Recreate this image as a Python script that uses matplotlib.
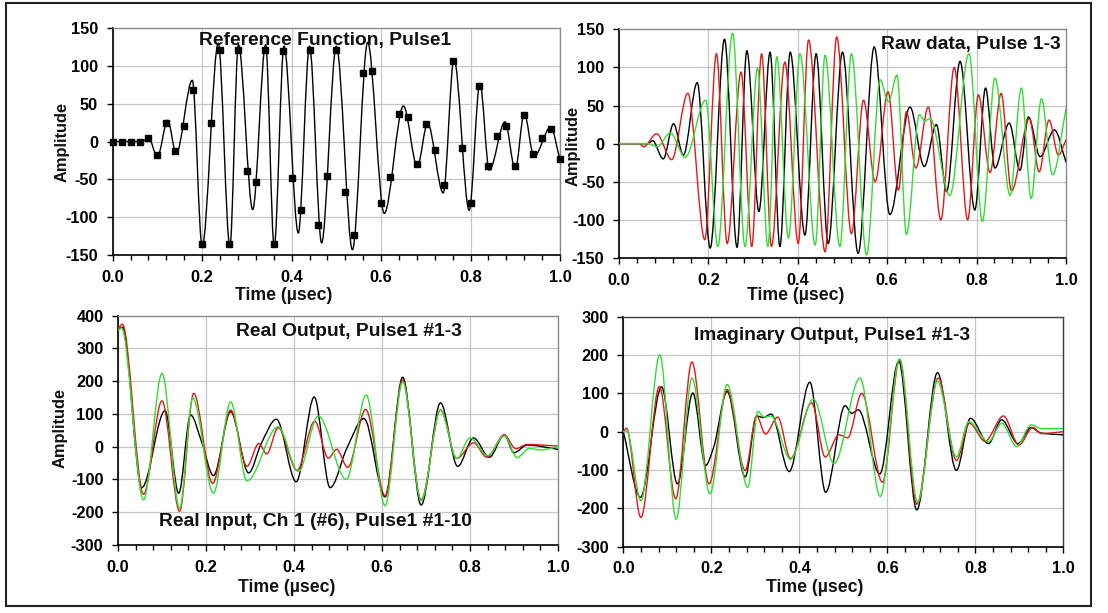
import numpy as np
import matplotlib
matplotlib.use("Agg")
import matplotlib.pyplot as plt
from matplotlib.path import Path
from matplotlib.patches import PathPatch, Rectangle

plt.rcParams['font.family'] = ['Liberation Sans', 'DejaVu Sans']
plt.rcParams['font.weight'] = 'bold'

W, H = 1108, 613

# ---------------- data ----------------
# Top-left: reference function, sampled markers every 0.02 usec
ref_sample_t = [0.00, 0.02, 0.04, 0.06, 0.08, 0.10, 0.12, 0.14, 0.16, 0.18,
                0.20, 0.22, 0.24, 0.26, 0.28, 0.30, 0.32, 0.34, 0.36, 0.38,
                0.40, 0.42, 0.44, 0.46, 0.48, 0.50, 0.52, 0.54, 0.56, 0.58,
                0.60, 0.62, 0.64, 0.66, 0.68, 0.70, 0.72, 0.74, 0.76, 0.78,
                0.80, 0.82, 0.84, 0.86, 0.88, 0.90, 0.92, 0.94, 0.96, 0.98, 1.00]
ref_sample_v = [0, 0, 0, 0, 5, -18, 25, -13, 20, 68,
                -136, 25, 121, -136, 121, -39, -54, 121, -136, 120,
                -48, -90, 121, -111, -46, 121, -67, -123, 91, 93,
                -81, -47, 36, 33, -30, 23, -11, -57, 106, -9,
                -81, 74, -32, 7, 21, -33, 35, -17, 4, 16, -23]
# reference function curve (turning points)
ref_t = [0, 0.066, 0.08, 0.1, 0.123, 0.142, 0.178, 0.2, 0.236, 0.262, 0.281, 0.313,
         0.342, 0.361, 0.383, 0.415, 0.44, 0.467, 0.5, 0.536, 0.57, 0.607, 0.65,
         0.681, 0.704, 0.739, 0.763, 0.797, 0.821, 0.842, 0.877, 0.9, 0.92, 0.942,
         0.979, 1.0]
ref_v = [0, 0, 5, -20, 28, -16, 81, -139, 130, -139, 128, -90,
         128, -139, 126, -121, 126, -134, 126, -143, 131, -95, 47,
         -33, 24, -68, 109, -91, 77, -38, 26, -37, 37, -20,
         19, -24]

# Top-right: raw data, pulses 1-3
raw1_t = [0, 0.065, 0.075, 0.099, 0.122, 0.144, 0.175, 0.204, 0.236, 0.264, 0.286,
          0.313, 0.338, 0.36, 0.383, 0.416, 0.441, 0.468, 0.5, 0.535, 0.571, 0.606,
          0.651, 0.683, 0.71, 0.733, 0.763, 0.796, 0.82, 0.841, 0.873, 0.897, 0.916,
          0.942, 0.974, 1.0]
raw1_v = [0, 0, 4, -20, 26, -15, 80, -137, 137, -136, 122,
          -89, 120, -135, 120, -120, 118, -131, 120, -144, 127, -93,
          48, -30, 25, -63, 108, -87, 73, -32, 27, -35, 35,
          -17, 18, -24]
raw2_t = [0, 0.045, 0.055, 0.084, 0.118, 0.154, 0.192, 0.218, 0.242, 0.273, 0.297,
          0.319, 0.341, 0.371, 0.401, 0.424, 0.461, 0.487, 0.52, 0.547, 0.573, 0.602,
          0.625, 0.643, 0.664, 0.692, 0.72, 0.75, 0.78, 0.804, 0.83, 0.855, 0.878,
          0.918, 0.94, 0.962, 0.983, 1.0]
raw2_v = [0, 0, -4, 13, -21, 66, -126, 118, -131, 94, -135,
          118, -135, 107, -131, 136, -142, 140, -118, 57, -50, 68,
          -61, 42, -32, 48, -100, 100, -100, 64, -38, 66, -62,
          33, -37, 31, -15, 5]
raw3_t = [0, 0.065, 0.085, 0.115, 0.148, 0.194, 0.221, 0.254, 0.282, 0.31, 0.333,
          0.353, 0.379, 0.405, 0.439, 0.461, 0.494, 0.52, 0.554, 0.584, 0.603, 0.622,
          0.643, 0.672, 0.684, 0.696, 0.74, 0.783, 0.813, 0.841, 0.875, 0.9, 0.922,
          0.945, 0.97, 1.0]
raw3_v = [0, 0, -4, 14, -18, 57, -135, 145, -135, 99, -135,
          114, -124, 118, -133, 116, -135, 118, -146, 84, 55, 90,
          -119, 38, 30, 33, -68, 118, -102, 86, -68, 73, -72,
          59, -41, 46]

# Bottom-left: real output #1-3
re1_t = [0, 0.01, 0.054, 0.107, 0.138, 0.165, 0.19, 0.217, 0.256, 0.297, 0.325,
         0.36, 0.405, 0.446, 0.482, 0.52, 0.559, 0.607, 0.647, 0.689, 0.733, 0.772,
         0.808, 0.844, 0.878, 0.9, 0.93, 1.0]
re1_v = [355, 365, -125, 110, -142, 97, 15, -88, 107, -80, 8,
         84, -107, 152, -125, -5, 86, -153, 212, -178, 134, -60,
         27, -32, 36, -18, 5, -8]
re2_t = [0, 0.01, 0.058, 0.1, 0.14, 0.172, 0.215, 0.256, 0.293, 0.32, 0.338,
         0.364, 0.407, 0.447, 0.478, 0.497, 0.522, 0.563, 0.607, 0.647, 0.689, 0.733,
         0.77, 0.808, 0.838, 0.878, 0.904, 0.93, 1.0]
re2_v = [360, 374, -145, 140, -197, 163, -112, 112, -60, 10, -22,
         58, -72, 78, -35, -8, -63, 114, -150, 203, -162, 112,
         -36, 12, -32, 36, -6, 7, 2]
re3_t = [0, 0.008, 0.058, 0.1, 0.14, 0.17, 0.217, 0.256, 0.293, 0.364, 0.41,
         0.455, 0.519, 0.564, 0.607, 0.647, 0.689, 0.733, 0.77, 0.8, 0.84, 0.878,
         0.907, 0.935, 0.96, 1.0]
re3_v = [355, 362, -162, 224, -188, 148, -142, 137, -104, 61, -76,
         94, -100, 158, -180, 198, -165, 112, -36, 27, -27, 33,
         -33, -5, -10, 0]

# Bottom-right: imaginary output #1-3
im1_t = [0, 0.039, 0.087, 0.123, 0.158, 0.187, 0.205, 0.236, 0.277, 0.303, 0.318,
         0.336, 0.377, 0.424, 0.46, 0.504, 0.519, 0.534, 0.583, 0.626, 0.667, 0.714,
         0.757, 0.789, 0.83, 0.86, 0.897, 0.927, 0.95, 1.0]
im1_v = [0, -171, 117, -136, 101, -88, -42, 105, -118, 41, 37,
         46, -104, 129, -158, 68, 48, 57, -110, 184, -204, 154,
         -101, 35, -31, 31, -31, 11, -4, -8]
im2_t = [0, 0.007, 0.04, 0.082, 0.119, 0.156, 0.195, 0.236, 0.277, 0.303, 0.323,
         0.351, 0.38, 0.428, 0.459, 0.49, 0.51, 0.542, 0.589, 0.628, 0.667, 0.716,
         0.757, 0.787, 0.822, 0.864, 0.899, 0.931, 0.95, 1.0]
im2_v = [0, 9, -224, 118, -175, 182, -136, 110, -101, 41, -6,
         38, -70, 75, -66, -8, -16, 100, -132, 188, -189, 140,
         -75, 22, -25, 41, -35, 11, -5, 0]
im3_t = [0, 0.008, 0.04, 0.083, 0.12, 0.156, 0.197, 0.236, 0.283, 0.306, 0.32,
         0.336, 0.38, 0.432, 0.479, 0.538, 0.584, 0.628, 0.669, 0.714, 0.757, 0.785,
         0.83, 0.86, 0.894, 0.927, 0.95, 1.0]
im3_v = [0, 2, -180, 200, -228, 140, -162, 123, -145, 53, 38,
         41, -72, 85, -83, 140, -169, 190, -184, 132, -66, 26,
         -26, 22, -39, 18, 8, 8]

x_ticks = [0.0, 0.2, 0.4, 0.6, 0.8, 1.0]
x_labels = ['0.0', '0.2', '0.4', '0.6', '0.8', '1.0']

BLACK = '#000000'
RED = '#e01a1a'
GREEN = '#33dd33'


def smooth_curve(ax, t, v, color, lw=1.0, z=3):
    """Smooth monotone cubic Bezier through the given points (drawn by matplotlib)."""
    t = np.asarray(t, float)
    v = np.asarray(v, float)
    n = len(t)
    h = np.diff(t)
    d = np.diff(v) / h
    m = np.zeros(n)
    for k in range(1, n - 1):
        if d[k - 1] * d[k] > 0:
            w1 = 2 * h[k] + h[k - 1]
            w2 = h[k] + 2 * h[k - 1]
            m[k] = (w1 + w2) / (w1 / d[k - 1] + w2 / d[k])
    m[0] = d[0]
    m[-1] = d[-1]
    verts = [(t[0], v[0])]
    codes = [Path.MOVETO]
    for k in range(n - 1):
        verts.append((t[k] + h[k] / 3, v[k] + m[k] * h[k] / 3))
        verts.append((t[k + 1] - h[k] / 3, v[k + 1] - m[k + 1] * h[k] / 3))
        verts.append((t[k + 1], v[k + 1]))
        codes += [Path.CURVE4] * 3
    patch = PathPatch(Path(verts, codes), facecolor='none', edgecolor=color,
                      lw=lw, zorder=z, joinstyle='round', capstyle='round')
    ax.add_patch(patch)


def setup(ax, ylim, yticks, frame_color='#8c8c8c'):
    ax.set_xlim(0, 1)
    ax.set_ylim(*ylim)
    ax.set_xticks(x_ticks)
    ax.set_xticklabels(x_labels)
    ax.set_xticks(np.linspace(0, 1, 26), minor=True)
    ax.set_yticks(yticks)
    ax.set_yticklabels([str(y) for y in yticks])
    ax.grid(True, which='major', color='#c6c6c6', lw=0.9)
    ax.set_axisbelow(True)
    for s in ('left', 'bottom'):
        ax.spines[s].set_color('#000000')
        ax.spines[s].set_linewidth(1.2)
    for s in ('top', 'right'):
        ax.spines[s].set_color(frame_color)
        ax.spines[s].set_linewidth(1.0)
    ax.tick_params(axis='both', which='major', direction='out', length=4, width=1,
                   pad=6.5, labelsize=11.8, colors='#000000')
    ax.tick_params(axis='x', which='minor', direction='out', length=3.5, width=1)
    for lbl in ax.get_xticklabels() + ax.get_yticklabels():
        lbl.set_fontweight('bold')


def fig_text(fig, x, y, s, size=13.9, rot=0):
    fig.text(x / W, 1 - y / H, s, ha='center', va='center', fontsize=size,
             fontweight='bold', rotation=rot, color='#111111')


fig = plt.figure(figsize=(W / 100, H / 100), dpi=100)
fig.patch.set_facecolor('white')

ax1 = fig.add_axes([112.7 / W, 1 - 255 / H, 447.3 / W, 227 / H])
ax2 = fig.add_axes([619 / W, 1 - 258 / H, 447 / W, 228.7 / H])
ax3 = fig.add_axes([118 / W, 1 - 545 / H, 440 / W, 229.3 / H])
ax4 = fig.add_axes([623.3 / W, 1 - 546.7 / H, 440 / W, 230 / H])

setup(ax1, (-150, 150), [-150, -100, -50, 0, 50, 100, 150])
setup(ax2, (-150, 150), [-150, -100, -50, 0, 50, 100, 150])
setup(ax3, (-300, 400), [-300, -200, -100, 0, 100, 200, 300, 400])
setup(ax4, (-300, 300), [-300, -200, -100, 0, 100, 200, 300], frame_color='#404040')

# top-left
smooth_curve(ax1, ref_t, ref_v, BLACK, lw=1.0)
ax1.plot(ref_sample_t, ref_sample_v, linestyle='none', marker='s', markersize=3.8,
         color=BLACK, zorder=4, clip_on=False)

# top-right
smooth_curve(ax2, raw1_t, raw1_v, BLACK)
smooth_curve(ax2, raw2_t, raw2_v, RED)
smooth_curve(ax2, raw3_t, raw3_v, GREEN)

# bottom-left
smooth_curve(ax3, re1_t, re1_v, BLACK)
smooth_curve(ax3, re2_t, re2_v, RED)
smooth_curve(ax3, re3_t, re3_v, GREEN)

# bottom-right
smooth_curve(ax4, im1_t, im1_v, BLACK)
smooth_curve(ax4, im2_t, im2_v, RED)
smooth_curve(ax4, im3_t, im3_v, GREEN)

# titles and labels
fig_text(fig, 325, 40, 'Reference Function, Pulse1')
fig_text(fig, 971, 45, 'Raw data, Pulse 1-3')
fig_text(fig, 349, 331, 'Real Output, Pulse1 #1-3')
fig_text(fig, 315, 522, 'Real Input, Ch 1 (#6), Pulse1 #1-10')
fig_text(fig, 832, 335, 'Imaginary Output, Pulse1 #1-3')

fig_text(fig, 284, 296, 'Time (µsec)', size=12.7)
fig_text(fig, 796, 296, 'Time (µsec)', size=12.7)
fig_text(fig, 287, 587, 'Time (µsec)', size=12.7)
fig_text(fig, 815, 587, 'Time (µsec)', size=12.7)
fig_text(fig, 62, 142, 'Amplitude', size=11.8, rot=90)
fig_text(fig, 573, 146, 'Amplitude', size=11.8, rot=90)
fig_text(fig, 60, 428, 'Amplitude', size=11.8, rot=90)

# outer frame
fig.patches.append(Rectangle((6 / W, 1 - 606 / H), (1091 - 6) / W, (606 - 3) / H,
                             transform=fig.transFigure, fill=False,
                             edgecolor='#222222', lw=1.5))

fig.savefig('out.png', dpi=100, facecolor='white')
